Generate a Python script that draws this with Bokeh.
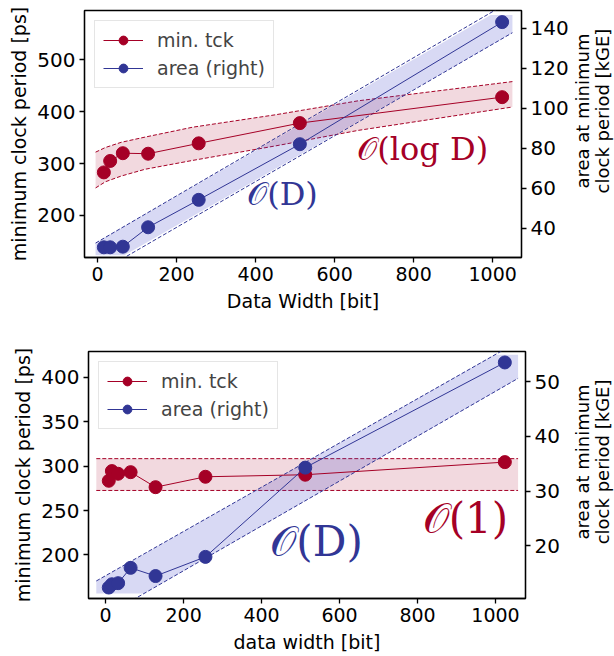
import math
from bokeh.plotting import figure
from bokeh.models import Range1d, LinearAxis, Legend, LegendItem, FixedTicker
from bokeh.layouts import column, row
from bokeh.core.properties import value
from bokeh.embed import file_html
from bokeh.resources import INLINE

RED = "#A50026"
BLUE = "#313695"
BLUE_FILL = "#3a3fc8"

# ---------------- top panel data ----------------
top_width = [16, 32, 64, 128, 256, 512, 1024]
top_tck = [283, 305, 320, 319, 339, 378, 428]
top_area = [30.5, 30.5, 30.8, 40.5, 54.2, 82, 143]

top_logband_x = [-5, 20, 60, 120, 240, 450, 660, 1050]
top_logband_hi = [322, 331, 341, 351, 370, 394, 421, 458]
top_logband_lo = [253, 265, 276, 289, 306, 334, 364, 409]

top_linband_x = [-5, 1050]
top_linband_hi = [32.6, 154]
top_linband_lo = [17, 137.7]
top_linfill_x = [-5, 68, 995, 1050]
top_linfill_hi = [32.6, 41, 146.5, 146.5]
top_linfill_lo = [26.5, 26.5, 131.3, 137.7]

# ---------------- bottom panel data ----------------
bot_width = [8, 16, 32, 64, 128, 256, 512, 1024]
bot_tck = [283.5, 294.4, 291.4, 293.2, 276.3, 288, 290.3, 304.5]
bot_area = [12.4, 13.0, 13.2, 16.0, 14.5, 18.0, 34.3, 53.5]

bot_constband_x = [-24, 1058]
bot_constband_hi = [308.4, 308.4]
bot_constband_lo = [272.6, 272.6]

bot_linband_x = [-24, 1058]
bot_linband_hi = [13.6, 57.3]
bot_linband_lo = [6.3, 50.6]
bot_linfill_x = [-24, 98, 998, 1058]
bot_linfill_hi = [13.6, 18.5, 54.9, 54.9]
bot_linfill_lo = [11.3, 11.3, 48.1, 50.6]

FONT = "DejaVu Sans"
RIGHT_LABEL = "area at minimum\nclock period [kGE]"


def style_axis(ax, ticks, tick_size="19px"):
    ax.ticker = FixedTicker(ticks=ticks)
    ax.major_label_text_font = FONT
    ax.major_label_text_font_size = tick_size
    ax.major_label_text_color = "black"
    ax.axis_label_text_font = FONT
    ax.axis_label_text_font_size = "19px"
    ax.axis_label_text_font_style = "normal"
    ax.axis_label_text_color = "black"
    ax.major_tick_in = 0
    ax.major_tick_out = 5
    ax.minor_tick_in = 0
    ax.minor_tick_out = 0
    ax.axis_line_color = "black"
    ax.axis_line_width = 1.3
    ax.major_tick_line_width = 1.3
    ax.major_label_standoff = 4


def side_label(frac):
    f = figure(width=40, height=328, output_backend="svg", toolbar_location=None,
               x_range=Range1d(0, 1), y_range=Range1d(0, 1),
               x_axis_location=None, y_axis_location=None, min_border=0)
    f.xgrid.visible = False
    f.ygrid.visible = False
    f.outline_line_color = None
    f.text(x=[0.45], y=[frac], text=[RIGHT_LABEL], angle=math.pi / 2,
           text_align="center", text_baseline="middle", text_font=value(FONT),
           text_font_size="18px", text_color="black", text_line_height=0.95)
    return f


def make_panel(xr, yl, yr, xticks, lticks, rticks, xlabel, borders,
               width, tck, area, red_band, blue_line_band, blue_fill, texts):
    p = figure(frame_width=437, frame_height=247, output_backend="svg", toolbar_location=None,
               x_range=Range1d(*xr), y_range=Range1d(*yl))
    p.min_border_left, p.min_border_right, p.min_border_top, p.min_border_bottom = borders
    p.extra_y_ranges = {"right": Range1d(*yr)}
    p.xgrid.visible = False
    p.ygrid.visible = False
    p.outline_line_color = "black"
    p.outline_line_width = 1.3
    p.background_fill_color = "white"
    p.border_fill_color = "white"

    style_axis(p.xaxis[0], xticks)
    p.xaxis[0].axis_label = xlabel
    p.xaxis[0].axis_label_standoff = 6
    style_axis(p.yaxis[0], lticks, "20px")
    p.yaxis[0].axis_label = "minimum clock period [ps]"
    p.yaxis[0].axis_label_standoff = 4

    rax = LinearAxis(y_range_name="right")
    style_axis(rax, rticks, "20px")
    p.add_layout(rax, "right")

    # red band
    rbx, rbhi, rblo = red_band
    p.varea(x=rbx, y1=rblo, y2=rbhi, fill_color=RED, fill_alpha=0.15)
    p.line(rbx, rbhi, line_color=RED, line_dash="4 2", line_width=1)
    p.line(rbx, rblo, line_color=RED, line_dash="4 2", line_width=1)

    # blue band
    bfx, bfhi, bflo = blue_fill
    p.varea(x=bfx, y1=bflo, y2=bfhi, fill_color=BLUE_FILL, fill_alpha=0.2, y_range_name="right")
    blx, blhi, bllo = blue_line_band
    p.line(blx, blhi, line_color=BLUE, line_dash="4 2", line_width=1, y_range_name="right")
    p.line(blx, bllo, line_color=BLUE, line_dash="4 2", line_width=1, y_range_name="right")

    # series
    r1 = p.line(width, tck, line_color=RED, line_width=1)
    r2 = p.scatter(width, tck, size=13, fill_color=RED, line_color=RED)
    b1 = p.line(width, area, line_color=BLUE, line_width=1, y_range_name="right")
    b2 = p.scatter(width, area, size=13, fill_color=BLUE, line_color=BLUE, y_range_name="right")

    for (tx, ty, label, col, size) in texts:
        p.text(x=[tx], y=[ty], text=[label], text_color=col, text_font=value("DejaVu Serif"),
               text_font_size=size, text_align="center", text_baseline="middle")

    leg = Legend(items=[LegendItem(label="min. tck", renderers=[r1, r2]),
                        LegendItem(label="area (right)", renderers=[b1, b2])],
                 location="top_left")
    leg.label_text_font = FONT
    leg.label_text_font_size = "19px"
    leg.glyph_width = 40
    leg.glyph_height = 22
    leg.label_standoff = 14
    leg.spacing = 6
    leg.padding = 8
    leg.margin = 10
    leg.border_line_color = "#cccccc"
    leg.border_line_width = 1
    leg.background_fill_alpha = 0.85
    p.add_layout(leg)
    return p


top = make_panel((-33, 1073), (119, 595), (25.4, 148.8),
                 [0, 200, 400, 600, 800, 1000], [200, 300, 400, 500], [40, 60, 80, 100, 120, 140],
                 "Data Width [bit]", (84, 53, 10, 71),
                 top_width, top_tck, top_area,
                 (top_logband_x, top_logband_hi, top_logband_lo),
                 (top_linband_x, top_linband_hi, top_linband_lo),
                 (top_linfill_x, top_linfill_hi, top_linfill_lo),
                 [(823, 329, "\U0001D4AA(log D)", RED, "32px"),
                  (468, 242, "\U0001D4AA(D)", BLUE, "32px")])

bottom = make_panel((-44, 1077), (151, 429), (10.4, 55.5),
                    [0, 200, 400, 600, 800, 1000], [200, 250, 300, 350, 400], [20, 30, 40, 50],
                    "data width [bit]", (88, 49, 23, 58),
                    bot_width, bot_tck, bot_area,
                    (bot_constband_x, bot_constband_hi, bot_constband_lo),
                    (bot_linband_x, bot_linband_hi, bot_linband_lo),
                    (bot_linfill_x, bot_linfill_hi, bot_linfill_lo),
                    [(923, 241, "\U0001D4AA(1)", RED, "42px"),
                     (541, 215, "\U0001D4AA(D)", BLUE, "42px")])

layout = column(row(top, side_label(0.593), spacing=0),
                row(bottom, side_label(0.553), spacing=0), spacing=0)
open("out.html", "w").write(file_html(layout, INLINE))
